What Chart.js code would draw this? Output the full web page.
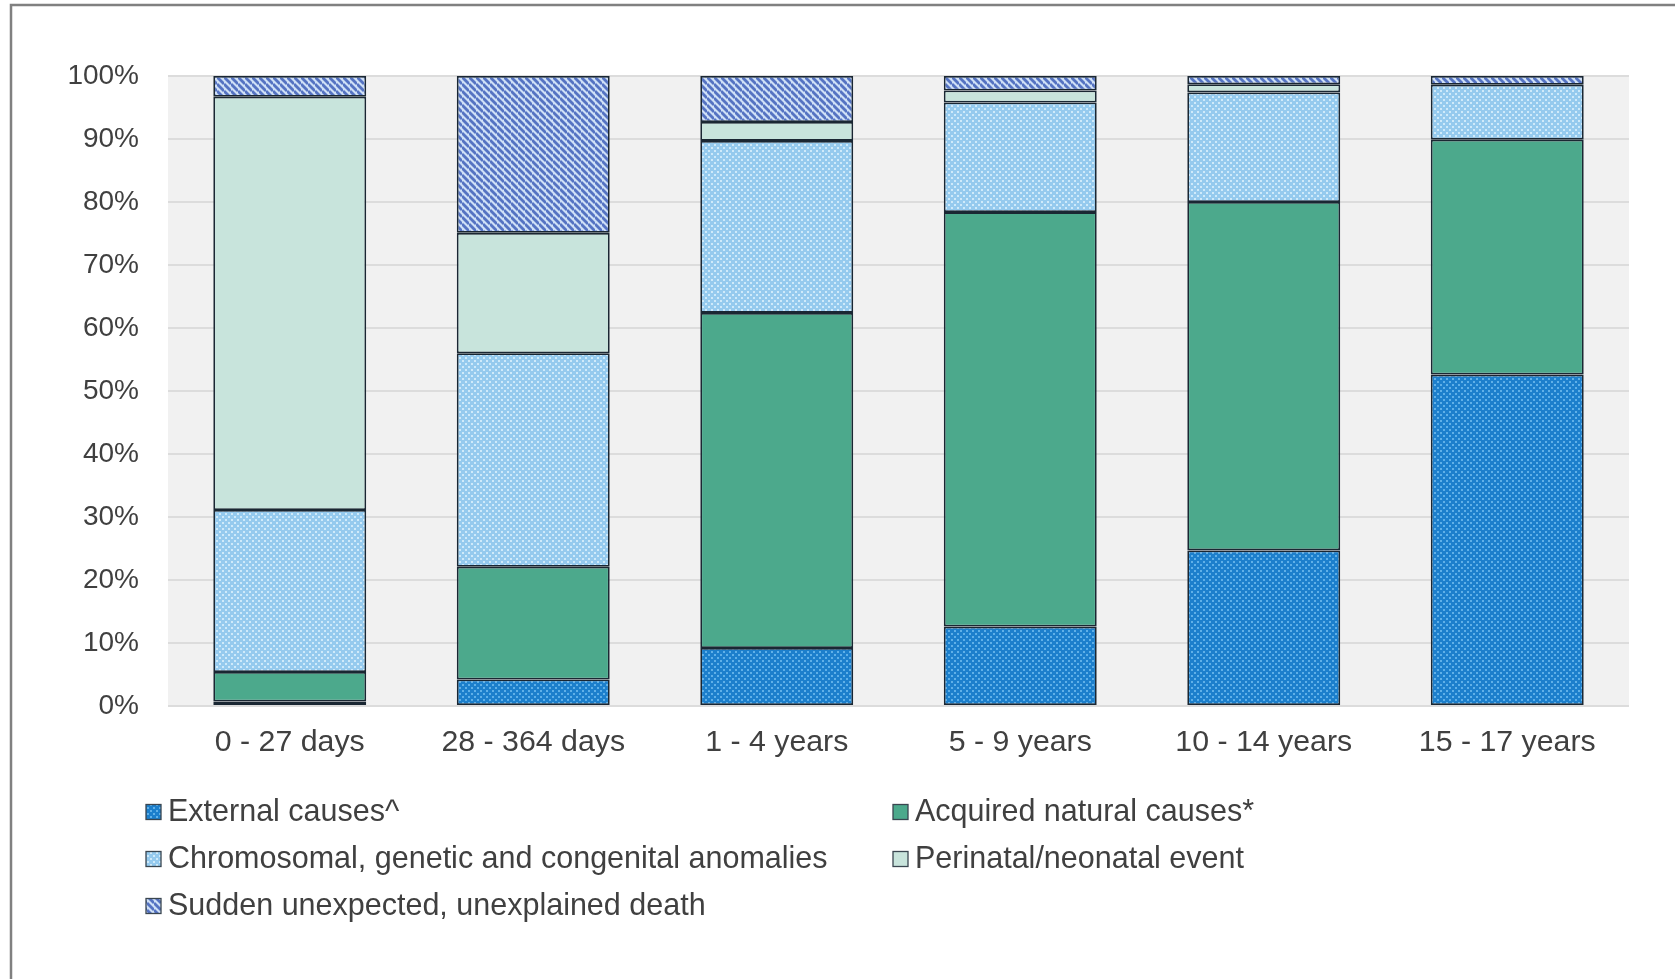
<!DOCTYPE html>
<html>
<head>
<meta charset="utf-8">
<script src="https://cdn.jsdelivr.net/npm/chart.js@4"></script>
<style>
html,body{margin:0;padding:0;background:#fff;}
#wrap{position:relative;width:1675px;height:979px;}
</style>
</head>
<body>
<div id="wrap"><canvas id="c" width="1675" height="979"></canvas></div>
<script>
// ---- data (percent of deaths by category, per age group) ----
const categories = ["0 - 27 days", "28 - 364 days", "1 - 4 years", "5 - 9 years", "10 - 14 years", "15 - 17 years"];
const seriesNames = ["External causes^", "Acquired natural causes*", "Chromosomal, genetic and congenital anomalies", "Perinatal/neonatal event", "Sudden unexpected, unexplained death"];
const external    = [0.7, 4.2, 9.2, 12.6, 24.7, 52.6];
const acquired    = [4.7, 17.9, 53.2, 65.8, 55.3, 37.3];
const chromosomal = [25.7, 33.9, 27.3, 17.4, 17.4, 8.7];
const perinatal   = [65.6, 19.1, 3.0, 1.9, 1.3, 0.0];
const sudi        = [3.3, 24.9, 7.3, 2.3, 1.3, 1.4];
const yTicks = [0, 10, 20, 30, 40, 50, 60, 70, 80, 90, 100];

// ---- patterns ----
function dotPattern(bg, dot, s, d) {
  const c = document.createElement('canvas'); c.width = s; c.height = s;
  const x = c.getContext('2d');
  x.fillStyle = bg; x.fillRect(0, 0, s, s);
  x.fillStyle = dot;
  x.fillRect(0, 0, d, d);
  x.fillRect(s / 2, s / 2, d, d);
  return x.createPattern(c, 'repeat');
}
function stripePattern(bg, fg, s, w) {
  const c = document.createElement('canvas'); c.width = s; c.height = s;
  const x = c.getContext('2d');
  x.fillStyle = bg; x.fillRect(0, 0, s, s);
  x.strokeStyle = fg; x.lineWidth = w;
  for (let k = -1; k <= 1; k++) {
    x.beginPath(); x.moveTo(0, k * s); x.lineTo(s, s + k * s); x.stroke();
  }
  return x.createPattern(c, 'repeat');
}
const fills = [
  dotPattern('#1c7fcc', '#5fb0e8', 6, 2),
  '#4ca98c',
  dotPattern('#95caee', '#cfeafa', 6, 2),
  '#c8e4dc',
  stripePattern('#cfe0f6', '#5573c2', 7, 2.8)
];
const values = [external, acquired, chromosomal, perinatal, sudi];
const FONT = "'Liberation Sans', Arial, sans-serif";
const TEXT = '#404040';

const plotBg = {
  id: 'plotBg',
  beforeDraw(chart) {
    const {ctx, chartArea: a} = chart;
    ctx.save();
    ctx.fillStyle = '#fff'; ctx.fillRect(0, 0, chart.width, chart.height);
    ctx.fillStyle = '#f1f1f1';
    ctx.fillRect(a.left, a.top, a.right - a.left, a.bottom - a.top);
    // outer frame (left and top edges)
    ctx.strokeStyle = '#808080'; ctx.lineWidth = 2.5;
    ctx.beginPath(); ctx.moveTo(11, chart.height); ctx.lineTo(11, 5); ctx.lineTo(chart.width, 5); ctx.stroke();
    ctx.restore();
  }
};

const gridLegend = {
  id: 'gridLegend',
  afterDraw(chart) {
    const {ctx, chartArea: a} = chart;
    const cols = [a.left - 22, a.left + 725];
    const rows = [812, 859, 906];
    ctx.save();
    ctx.font = '30.5px ' + FONT;
    ctx.textBaseline = 'middle';
    chart.data.datasets.forEach((ds, i) => {
      const x = cols[i % 2], y = rows[Math.floor(i / 2)];
      const b = 15;
      ctx.fillStyle = ds.backgroundColor;
      ctx.fillRect(x, y - b / 2, b, b);
      ctx.strokeStyle = '#3a4650'; ctx.lineWidth = 1.3;
      ctx.strokeRect(x, y - b / 2, b, b);
      ctx.fillStyle = TEXT;
      ctx.fillText(ds.label, x + b + 7, y + 1);
    });
    ctx.restore();
  }
};

new Chart(document.getElementById('c'), {
  type: 'bar',
  data: {
    labels: categories,
    datasets: seriesNames.map((n, i) => ({
      label: n,
      data: values[i],
      backgroundColor: fills[i],
      borderColor: '#1a2733',
      borderWidth: 1.8,
      borderSkipped: false,
      barPercentage: 0.628,
      categoryPercentage: 1.0
    }))
  },
  options: {
    responsive: false,
    animation: false,
    layout: {padding: {left: 0, top: 76, right: 46, bottom: 213}},
    plugins: {legend: {display: false}, tooltip: {enabled: false}},
    scales: {
      x: {
        stacked: true,
        grid: {display: false, drawTicks: false},
        border: {display: false},
        ticks: {color: TEXT, font: {family: FONT, size: 30.3}, padding: 18, maxRotation: 0},
        afterFit(s) { s.height = 60; }
      },
      y: {
        stacked: true,
        min: 0, max: 100,
        afterBuildTicks(s) { s.ticks = yTicks.map(v => ({value: v})); },
        grid: {color: '#dcdcdc', lineWidth: 2, drawTicks: false},
        border: {display: false},
        ticks: {color: TEXT, font: {family: FONT, size: 28}, padding: 29, callback: v => v + '%'},
        afterFit(s) { s.width = 168; }
      }
    }
  },
  plugins: [plotBg, gridLegend]
});
</script>
</body>
</html>
